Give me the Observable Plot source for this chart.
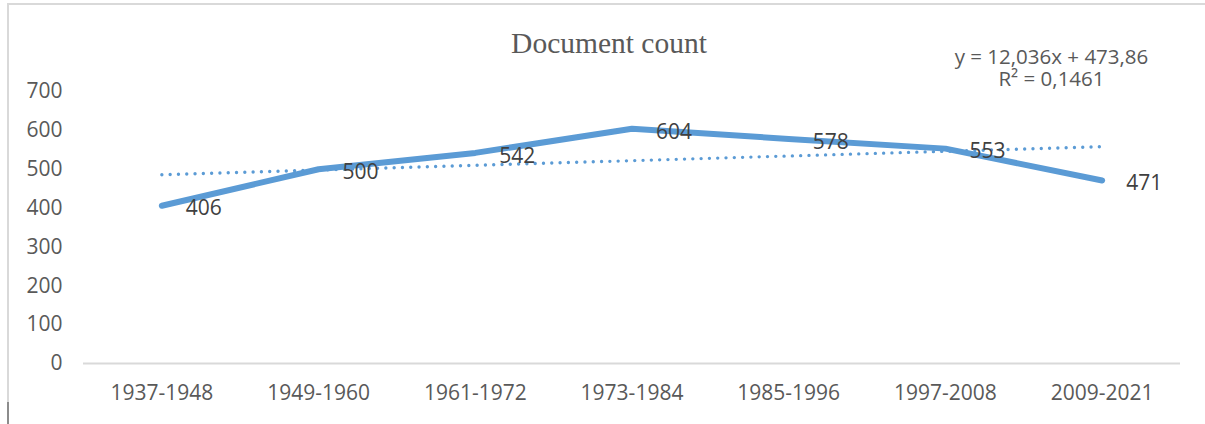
<!DOCTYPE html>
<html>
<head>
<meta charset="utf-8">
<script src="https://cdn.jsdelivr.net/npm/d3@7"></script>
<script src="https://cdn.jsdelivr.net/npm/@observablehq/plot@0.6"></script>
<style>
  html, body { margin: 0; padding: 0; background: #fff; }
  #wrap { position: relative; width: 1205px; height: 424px; overflow: hidden; }
  #frame { position: absolute; left: 7px; top: 3px; width: 1210px; height: 404px;
           border-left: 2px solid #d9d9d9; border-top: 2px solid #d9d9d9; }
  #tick { position: absolute; left: 7px; top: 402px; width: 2px; height: 22px; background: #8c8c8c; }
  #chart { position: absolute; left: 0; top: 0; }
</style>
</head>
<body>
<div id="wrap"><div id="frame"></div><div id="tick"></div><div id="chart"></div></div>
<script>
const periods = ["1937-1948", "1949-1960", "1961-1972", "1973-1984", "1985-1996", "1997-2008", "2009-2021"];
const counts = [406, 500, 542, 604, 578, 553, 471];
const yTicks = [0, 100, 200, 300, 400, 500, 600, 700];
const titleText = "Document count";
const equationText = "y = 12,036x + 473,86";
const r2Text = "R² = 0,1461";

const data = periods.map((p, k) => ({i: k + 1, period: p, v: counts[k]}));
const blue = "#5b9bd5";
const gray = "#595959";
const sans = "'Open Sans', sans-serif";

const chart = Plot.plot({
  width: 1205,
  height: 424,
  marginTop: 91,
  marginBottom: 61,
  marginLeft: 83,
  marginRight: 25,
  style: {fontFamily: sans, background: "transparent"},
  x: {type: "linear", domain: [0.5, 7.5]},
  y: {domain: [0, 700]},
  marks: [
    Plot.axisY({ticks: yTicks, tickSize: 0, tickPadding: 21, fontSize: 21, fill: gray, label: null}),
    Plot.axisX({ticks: data.map(d => d.i), tickFormat: i => periods[i - 1], tickSize: 0, tickPadding: 22, fontSize: 21, fill: gray, label: null}),
    Plot.ruleY([0], {stroke: "#d9d9d9", strokeWidth: 2}),
    Plot.line(data, {x: "i", y: "v", stroke: blue, strokeWidth: 6, strokeLinecap: "round", strokeLinejoin: "round"}),
    Plot.linearRegressionY(data, {x: "i", y: "v", ci: 0, stroke: blue, strokeWidth: 3.4, strokeDasharray: "0 8.3", strokeLinecap: "round"}),
    Plot.text(data, {x: "i", y: "v", text: d => String(d.v), textAnchor: "start", dx: 24, dy: 3, fontSize: 21, fill: "#404040"}),
    Plot.text([titleText], {frameAnchor: "top", lineAnchor: "middle", dx: -23, dy: -48, fontFamily: "'Liberation Serif', serif", fontSize: 29.5, fill: gray}),
    Plot.text([equationText], {frameAnchor: "top-right", lineAnchor: "middle", textAnchor: "middle", dx: -129, dy: -34, fontSize: 20.5, fill: gray}),
    Plot.text([r2Text], {frameAnchor: "top-right", lineAnchor: "middle", textAnchor: "middle", dx: -129, dy: -12, fontSize: 20.5, fill: gray})
  ]
});
document.getElementById("chart").appendChild(chart);
</script>
</body>
</html>
